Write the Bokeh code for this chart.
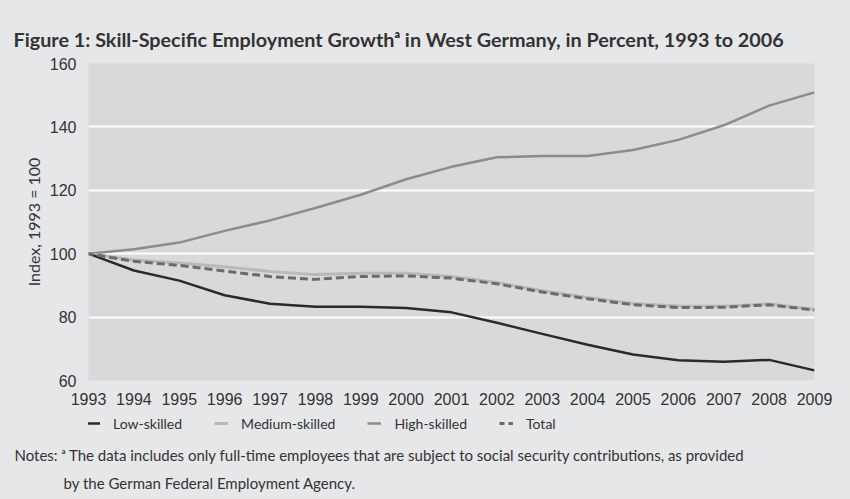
from bokeh.plotting import figure
from bokeh.layouts import column
from bokeh.models import Range1d, Legend, LegendItem, FixedTicker, ColumnDataSource, Title
from bokeh.embed import file_html
from bokeh.resources import INLINE

years = list(range(1993, 2010))
low_skilled = [100, 94.7, 91.5, 86.9, 84.2, 83.3, 83.3, 82.9, 81.5, 78.2, 74.7, 71.3, 68.2, 66.4, 65.9, 66.5, 63.2]
medium_skilled = [100, 98.0, 97.1, 95.9, 94.4, 93.4, 93.8, 93.8, 92.8, 90.9, 88.3, 86.2, 84.3, 83.5, 83.4, 84.1, 82.4]
high_skilled = [100, 101.4, 103.5, 107.2, 110.5, 114.4, 118.6, 123.5, 127.4, 130.4, 130.8, 130.8, 132.7, 135.9, 140.5, 146.7, 150.9]
total = [100, 97.6, 96.3, 94.5, 92.8, 91.9, 92.8, 93.0, 92.3, 90.5, 87.9, 85.8, 83.9, 83.0, 83.1, 83.9, 82.2]
y_ticks = [60, 80, 100, 120, 140, 160]
series_names = ["Low-skilled", "Medium-skilled", "High-skilled", "Total"]
series_cols = {"Low-skilled": "low", "Medium-skilled": "med", "High-skilled": "high", "Total": "tot"}

TXT = "#333333"
BG = "#e6e7e9"
PLOT_BG = "#d8d9db"
styles = {
    "Low-skilled": dict(line_color="#2a2a2a", line_width=2.5),
    "Medium-skilled": dict(line_color="#b9b9b9", line_width=3),
    "High-skilled": dict(line_color="#8c8c8c", line_width=2.5),
    "Total": dict(line_color="#6b6b6b", line_width=3, line_dash="8 4", line_dash_offset=3),
}
draw_order = ["High-skilled", "Medium-skilled", "Low-skilled", "Total"]

src = ColumnDataSource(dict(year=years, low=low_skilled, med=medium_skilled, high=high_skilled, tot=total))

# ---- main chart ----
p = figure(width=850, height=410, output_backend="svg", toolbar_location=None,
           x_range=Range1d(1993, 2009), y_range=Range1d(60, 160),
           min_border_left=88, min_border_right=36, min_border_top=63, min_border_bottom=30)
p.border_fill_color = BG
p.background_fill_color = PLOT_BG
p.outline_line_color = None

for name in draw_order:
    p.line("year", series_cols[name], source=src, **styles[name])

p.xgrid.grid_line_color = None
p.ygrid.grid_line_color = "white"
p.ygrid.grid_line_width = 2
p.yaxis.ticker = FixedTicker(ticks=y_ticks)
p.xaxis.ticker = FixedTicker(ticks=years)
for ax in (p.xaxis, p.yaxis):
    ax.axis_line_color = None
    ax.major_tick_line_color = None
    ax.minor_tick_line_color = None
    ax.major_label_text_font = "Liberation Sans"
    ax.major_label_text_font_size = "16px"
    ax.major_label_text_color = TXT
p.xaxis.major_label_standoff = 6
p.yaxis.major_label_standoff = 6
p.yaxis.axis_label = "Index, 1993 = 100"
p.yaxis.axis_label_text_font = "Lato"
p.yaxis.axis_label_text_font_style = "normal"
p.yaxis.axis_label_text_font_size = "16px"
p.yaxis.axis_label_text_color = TXT
p.yaxis.axis_label_standoff = 4

p.add_layout(Title(text="Figure 1: Skill-Specific Employment Growthᵃ in West Germany, in Percent, 1993 to 2006",
                   align="left", offset=-75, standoff=26,
                   text_font="Lato", text_font_style="bold", text_font_size="19.8px",
                   text_color=TXT), "above")
# invisible spacer panel between the title and the plot area
p.add_layout(Title(text=".", text_alpha=0, standoff=0, text_font_size="8px"), "above")

# ---- legend and notes strip ----
q = figure(width=850, height=89, output_backend="svg", toolbar_location=None,
           x_range=Range1d(0, 1), y_range=Range1d(0, 1),
           x_axis_type=None, y_axis_type=None,
           min_border_left=88, min_border_right=36, min_border_top=0, min_border_bottom=0)
q.border_fill_color = BG
q.border_fill_alpha = 0
q.background_fill_color = BG
q.background_fill_alpha = 0
q.outline_line_color = None
q.xgrid.grid_line_color = None
q.ygrid.grid_line_color = None

items = []
for name in series_names:
    # same data, outside this strip's ranges: only the legend swatch shows
    r = q.line("year", series_cols[name], source=src, **styles[name])
    items.append(LegendItem(label=name, renderers=[r]))
legend = Legend(items=items, orientation="horizontal", location=(-2, 10), spacing=32,
                glyph_width=14, glyph_height=20, label_height=20, label_standoff=13,
                padding=0, margin=0, background_fill_alpha=0, border_line_color=None,
                label_text_font="Lato", label_text_font_size="14px", label_text_color=TXT)
q.add_layout(legend, "center")

q.add_layout(Title(text="Notes: ᵃ The data includes only full-time employees that are subject to social security contributions, as provided",
                   align="left", offset=-74, standoff=0,
                   text_font="Lato", text_font_style="normal", text_font_size="15px", text_color=TXT), "below")
q.add_layout(Title(text="by the German Federal Employment Agency.",
                   align="left", offset=-25, standoff=16,
                   text_font="Lato", text_font_style="normal", text_font_size="15px", text_color=TXT), "below")

layout = column(p, q, spacing=0, styles={"background-color": BG})
open("out.html", "w").write(file_html(layout, INLINE))
